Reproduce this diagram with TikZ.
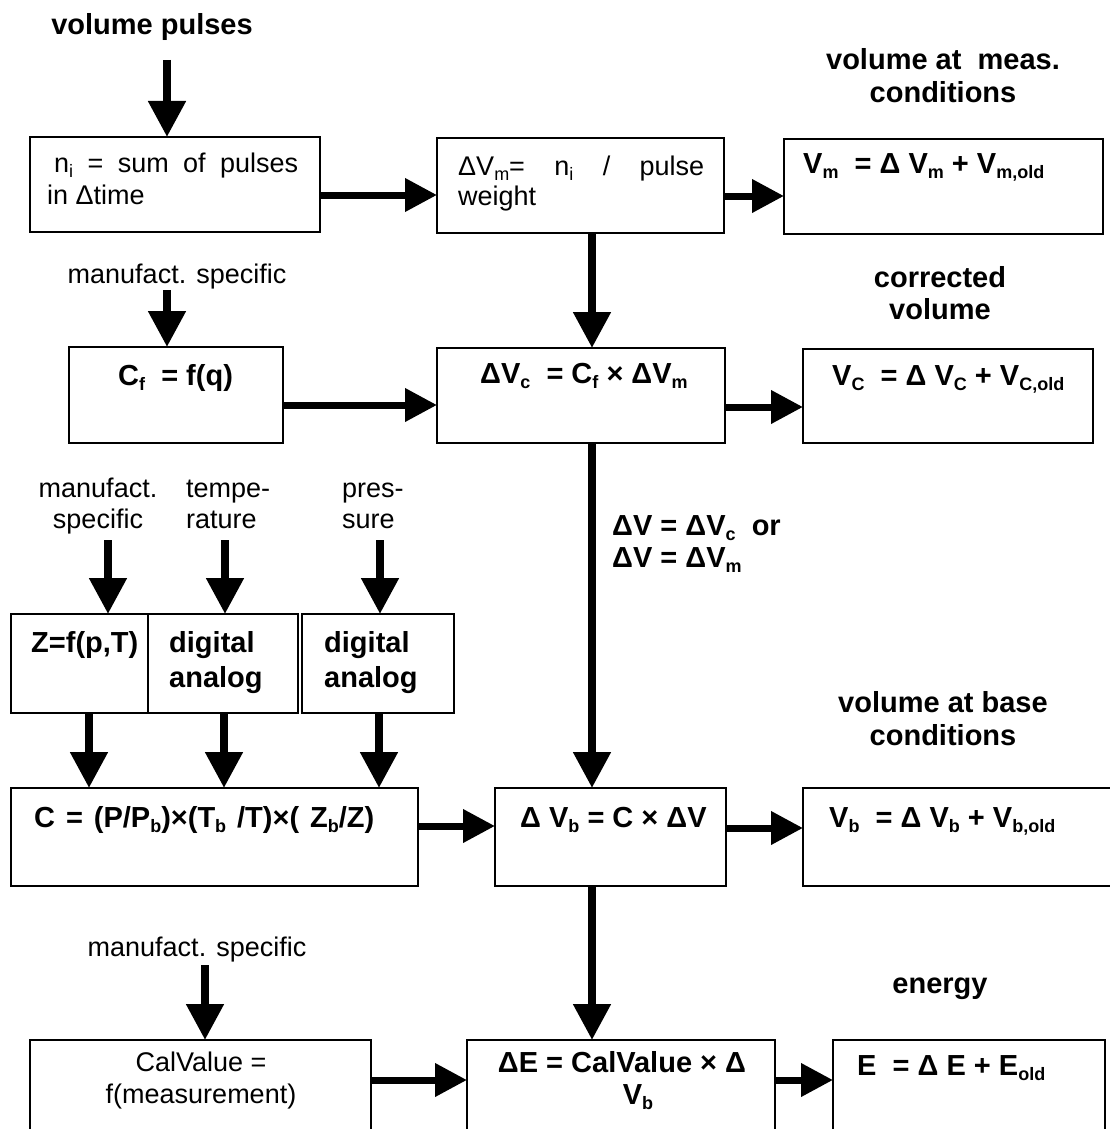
\documentclass[tikz,border=0pt]{standalone}
\usepackage{fontspec}
\setmainfont{Liberation Sans}
\usetikzlibrary{arrows.meta}
\newcommand\lo[1]{\raisebox{-0.2em}{\fontsize{18}{18}\selectfont #1}}
\begin{document}
\begin{tikzpicture}[x=1pt,y=-1pt,
  box/.style={draw, line width=1.2pt, inner sep=0pt, outer sep=0pt, anchor=north west},
  varr/.style={line width=8pt, -{Triangle[width=36pt,length=36pt]}},
  harr/.style={line width=7pt, -{Triangle[width=32pt,length=32pt]}},
  lab/.style={font=\fontsize{29}{35}\selectfont\bfseries, inner sep=0pt, anchor=base},
  reg/.style={font=\fontsize{27}{32}\selectfont, inner sep=0pt, anchor=base west},
  regc/.style={font=\fontsize{27}{32}\selectfont, inner sep=0pt, anchor=base},
  bld/.style={font=\fontsize{29}{35}\selectfont\bfseries, inner sep=0pt, anchor=base west},
  bldc/.style={font=\fontsize{29}{35}\selectfont\bfseries, inner sep=0pt, anchor=base},
]
\useasboundingbox (0,0) rectangle (1110,1129);
\clip (0,0) rectangle (1110,1129);

% ---------- boxes ----------
\node[box, minimum width=290pt, minimum height=95pt] (A) at (30,137) {};
\node[box, minimum width=287pt, minimum height=95pt] (B) at (437,138) {};
\node[box, minimum width=319pt, minimum height=95pt] (C) at (784,139) {};
\node[box, minimum width=214pt, minimum height=96pt] (E) at (69,347) {};
\node[box, minimum width=288pt, minimum height=95pt] (D) at (437,348) {};
\node[box, minimum width=290pt, minimum height=94pt] (F) at (803,349) {};
\node[box, minimum width=137pt, minimum height=99pt] (Z) at (11,614) {};
\node[box, minimum width=150pt, minimum height=99pt] (T) at (148,614) {};
\node[box, minimum width=152pt, minimum height=99pt] (P) at (302,614) {};
\node[box, minimum width=407pt, minimum height=98pt] (G) at (11,788) {};
\node[box, minimum width=231pt, minimum height=98pt] (H) at (495,788) {};
\node[box, minimum width=309pt, minimum height=98pt] (Vb) at (803,788) {};
\node[box, minimum width=341pt, minimum height=110pt] (I) at (30,1040) {};
\node[box, minimum width=308pt, minimum height=110pt] (J) at (467,1040) {};
\node[box, minimum width=272pt, minimum height=110pt] (K) at (833,1040) {};

% ---------- texts ----------
\node[lab] (vp) at (152,35) {volume pulses};
\node[lab] (vma) at (943,70) {volume at\ \ meas.};
\node[lab] (vmb) at (943,103) {conditions};
\node[reg] (ta1) at (54,172) {\makebox[244pt][s]{n\lo{i} = sum of pulses}};
\node[reg] (ta2) at (47,204) {in Δtime};
\node[reg] (tb1) at (458,175) {\makebox[246pt][s]{ΔV\lo{m}= n\lo{i} / pulse}};
\node[reg] (tb2) at (458,205) {weight};
\node[bld] (tc) at (803,173) {V\lo{m}\ \ = Δ V\lo{m} + V\lo{m,old}};

\node[regc] (ms1) at (177,283) {manufact. specific};
\node[lab] (cva) at (940,287) {corrected};
\node[lab] (cvb) at (940,319) {volume};
\node[bld] (te) at (118,385) {C\lo{f}\ \ = f(q)};
\node[bld] (td) at (480,383) {ΔV\lo{c}\ \ = C\lo{f} × ΔV\lo{m}};
\node[bld] (tf) at (832,385) {V\lo{C}\ \ = Δ V\lo{C} + V\lo{C,old}};

\node[regc] (m3a) at (98,497) {manufact.};
\node[regc] (m3b) at (98,528) {specific};
\node[reg] (t3a) at (186,497) {tempe-};
\node[reg] (t3b) at (186,528) {rature};
\node[reg] (p3a) at (342,497) {pres-};
\node[reg] (p3b) at (342,528) {sure};
\node[bld] (dva) at (612,535) {ΔV = ΔV\lo{c}\ \ or};
\node[bld] (dvb) at (612,567) {ΔV = ΔV\lo{m}};
\node[bld] (tz) at (31,652) {Z=f(p,T)};
\node[bld] (tt1) at (169,652) {digital};
\node[bld] (tt2) at (169,687) {analog};
\node[bld] (tp1) at (324,652) {digital};
\node[bld] (tp2) at (324,687) {analog};

\node[lab] (vba) at (943,712) {volume at base};
\node[lab] (vbb) at (943,745) {conditions};
\node[bld] (tg) at (34,827) {\makebox[340pt][s]{C = (P/P\lo{b})×(T\lo{b} /T)×( Z\lo{b}/Z)}};
\node[bld] (th) at (520,827) {Δ V\lo{b} = C × ΔV};
\node[bld] (tvb) at (829,827) {V\lo{b}\ \ = Δ V\lo{b} + V\lo{b,old}};

\node[regc] (ms5) at (197,956) {manufact. specific};
\node[lab] (en) at (940,993) {energy};
\node[regc] (ti1) at (201,1071) {CalValue =};
\node[regc] (ti2) at (201,1103) {f(measurement)};
\node[bldc] (tj1) at (622,1072) {ΔE = CalValue × Δ};
\node[bldc] (tj2) at (638,1104) {V\lo{b}};
\node[bld] (tk) at (857,1075) {E\ \ = Δ E + E\lo{old}};

% ---------- coordinates ----------
\coordinate (s1) at (167,60);
\coordinate (s2) at (167,290);
\coordinate (s3a) at (108,540);
\coordinate (s3b) at (225,540);
\coordinate (s3c) at (380,540);
\coordinate (s5) at (205,965);
\coordinate (xm) at (592,0);
\coordinate (xa) at (89,0);
\coordinate (xb) at (224,0);
\coordinate (xc) at (379,0);
\coordinate (y1) at (0,195);
\coordinate (y2) at (0,196);
\coordinate (y3) at (0,405);
\coordinate (y4) at (0,407);
\coordinate (y5) at (0,826);
\coordinate (y6) at (0,828);
\coordinate (y7) at (0,1080);

% ---------- connectors ----------
\draw[varr] (s1) -- (s1 |- A.north);
\draw[varr] (s2) -- (s2 |- E.north);
\draw[varr] (s3a) -- (s3a |- Z.north);
\draw[varr] (s3b) -- (s3b |- T.north);
\draw[varr] (s3c) -- (s3c |- P.north);
\draw[varr] (s5) -- (s5 |- I.north);
\draw[varr] (B.south -| xm) -- (D.north -| xm);
\draw[varr] (D.south -| xm) -- (H.north -| xm);
\draw[varr] (H.south -| xm) -- (J.north -| xm);
\draw[varr] (Z.south -| xa) -- (G.north -| xa);
\draw[varr] (T.south -| xb) -- (G.north -| xb);
\draw[varr] (P.south -| xc) -- (G.north -| xc);

\draw[harr] (A.east |- y1) -- (B.west |- y1);
\draw[harr] (B.east |- y2) -- (C.west |- y2);
\draw[harr] (E.east |- y3) -- (D.west |- y3);
\draw[harr] (D.east |- y4) -- (F.west |- y4);
\draw[harr] (G.east |- y5) -- (H.west |- y5);
\draw[harr] (H.east |- y6) -- (Vb.west |- y6);
\draw[harr] (I.east |- y7) -- (J.west |- y7);
\draw[harr] (J.east |- y7) -- (K.west |- y7);
\end{tikzpicture}
\end{document}
